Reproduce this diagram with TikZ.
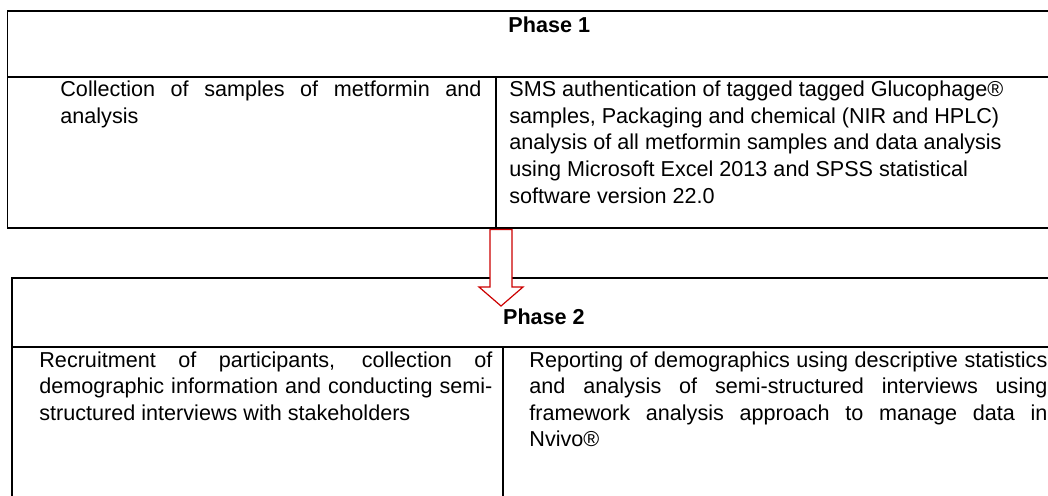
\documentclass[tikz,border=0pt]{standalone}
\usepackage{fontspec}
\setmainfont{Liberation Sans}
\usetikzlibrary{calc}

\begin{document}
\begin{tikzpicture}[x=0.5pt,y=-0.5pt,
  rule/.style={line width=0.9pt},
  % base of a multi-line cell is its last line
  cell/.style={anchor=base west,inner sep=0pt,align=left,
    font=\fontsize{10.8}{13.3}\selectfont},
  phase/.style={anchor=base west,inner sep=0pt,
    font=\fontsize{10.8}{13.3}\selectfont\bfseries},
  blockarrow/.style={draw=red!80!black,line width=0.6pt,fill=white,line join=miter}]
\useasboundingbox (0,0) rectangle (1048,495);
\clip (0,0) rectangle (1048,495);

% Phase 1 table
\draw[rule] (1060,11) -- (7.5,11) -- (7.5,228) -- (1060,228);
\draw[rule] (7.5,77) -- (1060,77);
\draw[rule] (496,77) -- (496,228);
\node[phase] (ph1) at (508,32) {Phase 1};
\node[cell] (c11) at (60,123.3) {\makebox[210.5pt][s]{Collection of samples of metformin and}\\
  analysis};
\node[cell] (c12) at (509,203.1) {SMS authentication of tagged tagged Glucophage®\\
  samples, Packaging and chemical (NIR and HPLC)\\
  analysis of all metformin samples and data analysis\\
  using Microsoft Excel 2013 and SPSS statistical\\
  software version 22.0};

% Phase 2 table
\draw[rule] (1060,278) -- (12,278) -- (12,500);
\draw[rule] (12,347) -- (1060,347);
\draw[rule] (503,347) -- (503,500);
\node[phase] (ph2) at (502.7,324) {Phase 2};
\node[cell] (c21) at (39,420.2) {\makebox[226.5pt][s]{Recruitment of participants, collection of}\\
  \makebox[226.5pt][s]{demographic information and conducting semi-}\\
  structured interviews with stakeholders};
\node[cell] (c22) at (529,446.8) {\makebox[259pt][s]{Reporting of demographics using descriptive statistics}\\
  \makebox[259pt][s]{and analysis of semi-structured interviews using}\\
  \makebox[259pt][s]{framework analysis approach to manage data in}\\
  Nvivo®};

% block arrow from phase 1 down into phase 2
\coordinate (p1out) at (501,229.5);
\coordinate (p2in) at (501,306);
\draw[blockarrow] ($(p1out)+(-11,0)$) -- ($(p1out)+(11,0)$) -- ($(p1out)+(11,57.5)$)
  -- ($(p1out)+(22,57.5)$) -- (p2in) -- ($(p1out)+(-22,57.5)$)
  -- ($(p1out)+(-11,57.5)$) -- cycle;
\end{tikzpicture}
\end{document}
